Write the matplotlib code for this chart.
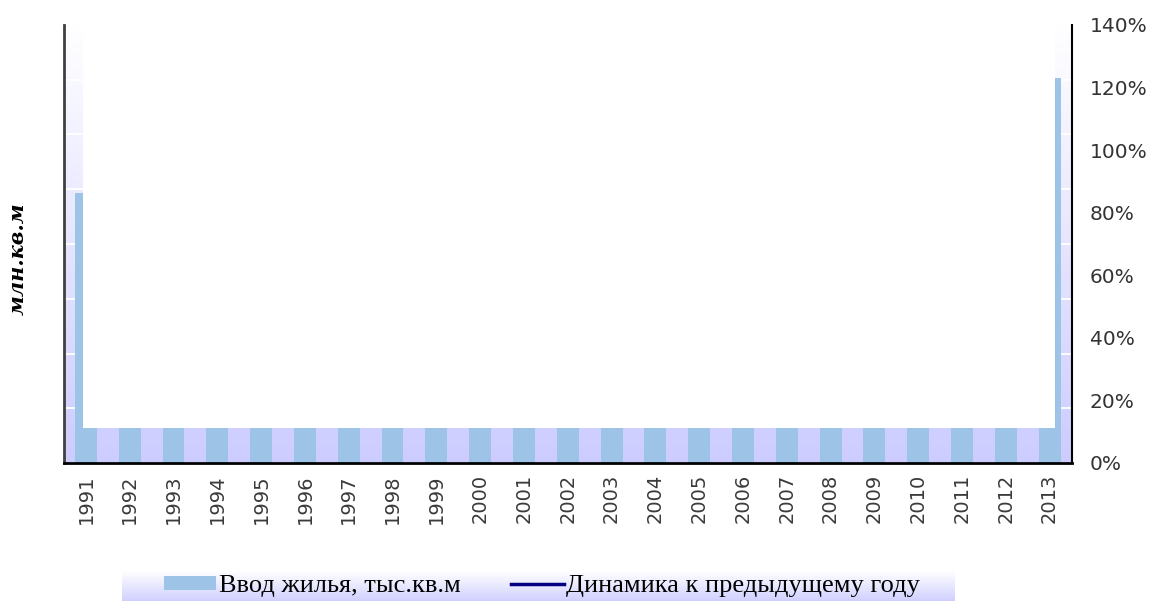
import numpy as np
import matplotlib.pyplot as plt
from matplotlib.patches import Patch, Rectangle
from matplotlib.lines import Line2D
from matplotlib.colors import LinearSegmentedColormap
from matplotlib.ticker import FuncFormatter

years = ['1991', '1992', '1993', '1994', '1995', '1996', '1997', '1998', '1999',
         '2000', '2001', '2002', '2003', '2004', '2005', '2006', '2007', '2008',
         '2009', '2010', '2011', '2012', '2013']
housing = [49.3, 6.45, 6.45, 6.45, 6.45, 6.45, 6.45, 6.45, 6.45, 6.45, 6.45, 6.45,
           6.45, 6.45, 6.45, 6.45, 6.45, 6.45, 6.45, 6.45, 6.45, 6.45, 70.3]
pct_ticks = [0.0, 0.2, 0.4, 0.6, 0.8, 1.0, 1.2, 1.4]
series_names = ['Ввод жилья, тыс.кв.м', 'Динамика к предыдущему году']
y_label = 'млн.кв.м'

BAR_COLOR = '#9DC3E6'
LAV = '#CCCCFF'

fig = plt.figure(figsize=(11.5, 6.01), dpi=100)
ax = fig.add_axes([64 / 1150, 138 / 601, (1071.5 - 64) / 1150, 438 / 601])
x = np.arange(len(years))
ax.set_xlim(-0.5, len(years) - 0.5)
ax.set_ylim(0, 80)

grad = np.linspace(0, 1, 256).reshape(-1, 1)
cmap = LinearSegmentedColormap.from_list('g', [LAV, '#FFFFFF'])
ax.imshow(grad, extent=[-0.5, len(years) - 0.5, 0, 80], origin='lower',
          aspect='auto', cmap=cmap, zorder=0)
ax.set_yticks(np.arange(0, 81, 10))
ax.set_axisbelow(True)
ax.yaxis.grid(True, color='white', lw=1.3)

ax.bar(x, housing, width=0.5, color=BAR_COLOR, zorder=2)
ax.add_patch(Rectangle((-0.068, housing[1]), (len(years) - 1 + 0.13) + 0.068, 80,
                       facecolor='white', edgecolor='none', zorder=2.2))

ax.set_xticks(x)
ax.set_xticklabels(years, rotation=90, fontsize=14, color='#3a3a3a')
ax.tick_params(axis='x', length=0, pad=8)
ax.spines['top'].set_visible(False)
ax.spines['right'].set_visible(False)
ax.spines['left'].set_color('#404040')
ax.spines['left'].set_linewidth(2)
ax.spines['bottom'].set_color('black')
ax.spines['bottom'].set_linewidth(2)

ax2 = ax.twinx()
ax2.set_ylim(0, 1.4)
ax2.set_yticks(pct_ticks)
ax2.yaxis.set_major_formatter(FuncFormatter(lambda v, p: f'{v*100:.0f}%'))
ax2.tick_params(axis='y', length=0, pad=13, labelsize=14.5, labelcolor='#333333')
for s in ['top', 'left', 'bottom']:
    ax2.spines[s].set_visible(False)
ax2.spines['right'].set_color('black')
ax2.spines['right'].set_linewidth(1.5)
ax.tick_params(axis='y', left=False, right=False, labelleft=False, labelright=False, length=0)

fig.text(18 / 1150, 1 - 259 / 601, y_label, rotation=90, ha='center', va='center',
         fontsize=15, fontweight='bold', fontstyle='italic', family='DejaVu Serif')

# legend background
lax = fig.add_axes([122 / 1150, 0, (955 - 122) / 1150, 30 / 601])
lgrad = np.linspace(0, 1, 256).reshape(-1, 1)
lcmap = LinearSegmentedColormap.from_list('lg', ['#D0D0FF', '#FFFFFF'])
lax.imshow(lgrad, origin='lower', aspect='auto', cmap=lcmap, extent=[0, 1, 0, 1])
lax.axis('off')

handles = [Patch(facecolor=BAR_COLOR, edgecolor='none'),
           Line2D([0], [0], color='#000080', lw=2.5)]
fig.legend(handles, series_names, loc='center', bbox_to_anchor=(542 / 1150, 15 / 601),
           ncol=2, frameon=False, prop={'family': 'Liberation Serif', 'size': 19},
           handlelength=2.0, handleheight=0.45, handletextpad=0.1, columnspacing=1.9)

fig.savefig('out.png', dpi=100)
